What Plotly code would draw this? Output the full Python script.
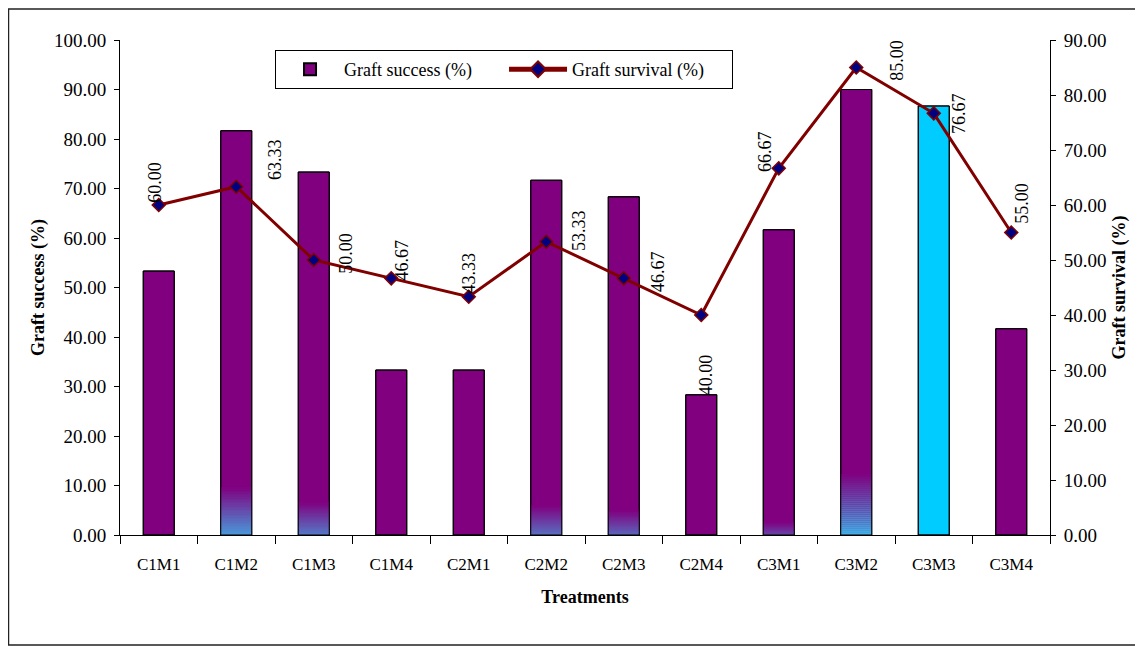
import plotly.graph_objects as go

categories = ["C1M1", "C1M2", "C1M3", "C1M4", "C2M1", "C2M2", "C2M3", "C2M4",
              "C3M1", "C3M2", "C3M3", "C3M4"]
graft_success = [53.33, 81.67, 73.33, 33.33, 33.33, 71.67, 68.33, 28.33,
                 61.67, 90.00, 86.67, 41.67]
graft_survival = [60.00, 63.33, 50.00, 46.67, 43.33, 53.33, 46.67, 40.00,
                  66.67, 85.00, 76.67, 55.00]

# ---- styling (not data) ----
FONT = "Liberation Serif"
PURPLE = (128, 0, 128)
BLUE = (64, 178, 232)
bar_colors = ["#800080"] * 12
bar_colors[10] = "#00CCFF"
# height of the bluish fade at the bottom of some bars (visual styling)
fade_height = [0, 9.7, 6.7, 0, 0, 6.0, 5.0, 0, 2.7, 12.3, 0, 0]
# label offsets in pixels (dx, dy) relative to each point
label_shift = [(-4, 23), (38, 27), (32, 7), (11, 18), (0, 24), (32, 11),
               (35, 7), (5, -60), (-13, 17), (40, 7), (26, 0), (10, 29)]

fig = go.Figure()

fig.add_trace(go.Bar(
    x=categories, y=graft_success, name="Graft success (%)",
    marker=dict(color=bar_colors, line=dict(color="black", width=1)),
    width=0.4, yaxis="y", showlegend=True,
))

# gradient fade at bar bottoms
N = 30
def mix(t):
    r = [round(PURPLE[j] + (BLUE[j] - PURPLE[j]) * t) for j in range(3)]
    return f"rgb({r[0]},{r[1]},{r[2]})"

maxh = max(fade_height)
for k in range(N):
    bases, heights, cols = [], [], []
    for i, h in enumerate(fade_height):
        bases.append(h * k / N)
        heights.append(h / N * 1.05 if h > 0 else 0)
        f = 1 - (k + 0.5) / N  # 1 at bottom, 0 at top
        t = f * (h / maxh) ** 0.6 if maxh else 0
        cols.append(mix(t))
    fig.add_trace(go.Bar(
        x=categories, y=heights, base=bases, width=0.4,
        marker=dict(color=cols, line=dict(width=0)),
        showlegend=False, hoverinfo="skip", yaxis="y",
    ))

# outline on top
fig.add_trace(go.Bar(
    x=categories, y=graft_success, width=0.4,
    marker=dict(color="rgba(0,0,0,0)", line=dict(color="black", width=1)),
    showlegend=False, hoverinfo="skip", yaxis="y",
))

fig.add_trace(go.Scatter(
    x=categories, y=graft_survival, name="Graft survival (%)", yaxis="y2",
    mode="lines+markers",
    line=dict(color="#800000", width=3),
    marker=dict(symbol="diamond", size=10, color="#000080",
                line=dict(color="#800000", width=1.5)),
))

for i, (c, v) in enumerate(zip(categories, graft_survival)):
    dx, dy = label_shift[i]
    fig.add_annotation(
        x=c, y=v, xref="x", yref="y2", text=f"{v:.2f}", textangle=-90,
        showarrow=False, xanchor="center", yanchor="middle",
        xshift=dx, yshift=dy, font=dict(family=FONT, size=18, color="black"),
    )

fig.add_shape(type="rect", xref="paper", yref="paper",
              x0=-0.1199, x1=1.0989, y0=-0.2222, y1=1.0626,
              line=dict(color="#222222", width=1.5), layer="below")

fig.update_layout(
    width=1135, height=638,
    margin=dict(l=112, r=93, t=32, b=111, autoexpand=False),
    paper_bgcolor="white", plot_bgcolor="white",
    barmode="overlay",
    font=dict(family=FONT, size=18, color="black"),
    showlegend=True,
    legend=dict(
        orientation="h", x=0.1667, y=0.9798, xanchor="left", yanchor="top",
        bordercolor="black", borderwidth=1, bgcolor="white",
        font=dict(family=FONT, size=18), entrywidth=155, entrywidthmode="pixels",
        itemsizing="constant", itemwidth=58,
    ),
    xaxis=dict(
        type="category", range=[-0.5, 11.5], showline=True, linecolor="black", linewidth=1,
        ticks="outside", ticklen=8, tickcolor="black", tickson="boundaries",
        ticklabelstandoff=14,
        showgrid=False, tickfont=dict(family=FONT, size=17), automargin=False,
        title=dict(text="<b>Treatments</b>", font=dict(family=FONT, size=18), standoff=16),
    ),
    yaxis=dict(
        range=[0, 100], dtick=10, tickformat=".2f", showline=True,
        linecolor="black", linewidth=1, ticks="outside", ticklen=5,
        tickcolor="black", showgrid=False, zeroline=False, automargin=False,
        ticklabelstandoff=4,
        tickfont=dict(family=FONT, size=19),
        title=dict(text="<b>Graft success (%)</b>", font=dict(family=FONT, size=18), standoff=4),
    ),
    yaxis2=dict(
        range=[0, 90], dtick=10, tickformat=".2f", overlaying="y", side="right",
        showline=True, linecolor="black", linewidth=1, ticks="outside", ticklen=5,
        tickcolor="black", showgrid=False, zeroline=False, automargin=False,
        ticklabelstandoff=4,
        tickfont=dict(family=FONT, size=19),
        title=dict(text="<b>Graft survival (%)</b>", font=dict(family=FONT, size=18), standoff=6),
    ),
)

fig.write_html("out.html")
